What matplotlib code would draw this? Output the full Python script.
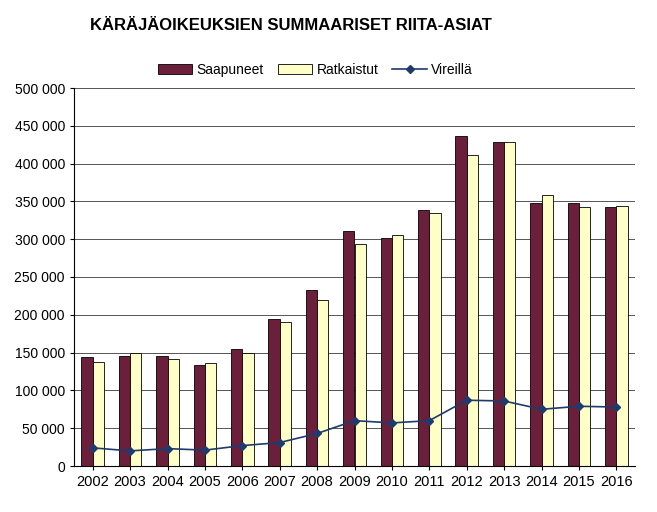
import matplotlib
matplotlib.use("Agg")
import matplotlib.pyplot as plt
import numpy as np

years = [str(y) for y in range(2002, 2017)]
saapuneet = [144000,145000,145000,133000,155000,194000,233000,311000,302000,338000,437000,428000,348000,348000,342000]
ratkaistut = [138000,149000,141000,136000,149000,190000,220000,294000,305000,335000,411000,429000,359000,343000,344000]
vireilla = [24000,20000,23000,21000,27000,31000,43000,60000,57000,60000,87000,86000,75000,79000,78000]

fig = plt.figure(figsize=(6.57,5.12), dpi=100)
ax = fig.add_axes([74/657, 1-466/512, 561/657, 378/512])
x = np.arange(len(years))
w = 0.3
b1 = ax.bar(x-w/2, saapuneet, w, color="#6b1f3a", edgecolor="black", linewidth=0.6, label="Saapuneet", zorder=2)
b2 = ax.bar(x+w/2, ratkaistut, w, color="#ffffc8", edgecolor="black", linewidth=0.6, label="Ratkaistut", zorder=2)
l1, = ax.plot(x, vireilla, color="#1f3a6b", marker="D", markersize=4, linewidth=1.2, label="Vireillä", zorder=3)
ax.set_xlim(-0.5, len(years)-0.5)
ax.set_ylim(0, 500000)
ax.set_yticks(range(0, 500001, 50000))
ax.set_yticklabels([f"{v:,}".replace(",", " ") for v in range(0, 500001, 50000)], fontsize=10, family="Liberation Sans")
ax.set_xticks(x)
ax.set_xticklabels(years, fontsize=10.5, family="Liberation Sans")
ax.yaxis.grid(True, color="#555555", linewidth=0.7, zorder=0)
ax.set_axisbelow(True)
for s in ["top","right"]:
    ax.spines[s].set_visible(False)
ax.tick_params(length=3)
fig.text(90/657, 1-25/512, "KÄRÄJÄOIKEUKSIEN SUMMAARISET RIITA-ASIAT", fontsize=12, fontweight="bold", family="Liberation Sans", va="center")
fig.legend([b1, b2, l1], ["Saapuneet", "Ratkaistut", "Vireillä"], loc="center", bbox_to_anchor=(0.48, 1-70/512), ncol=3, frameon=False, prop={"family":"Liberation Sans","size":10}, handlelength=2.5, columnspacing=1.0, handletextpad=0.3)
fig.savefig("out.png", dpi=100)
